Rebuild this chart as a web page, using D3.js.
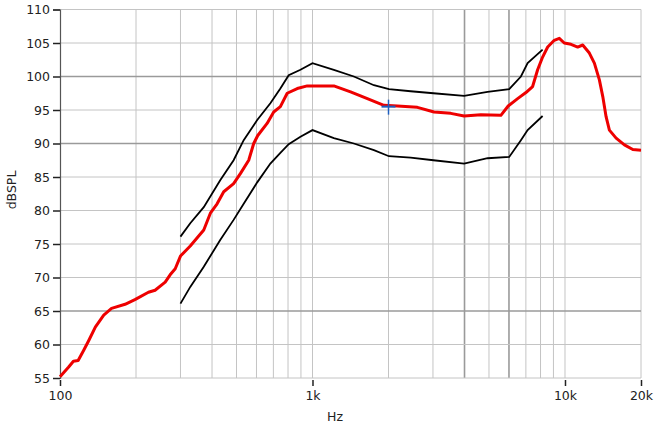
<!DOCTYPE html>
<html>
<head>
<meta charset="utf-8">
<script src="https://cdn.jsdelivr.net/npm/d3@7"></script>
<style>
  body { margin: 0; background: #fff; }
  text { font-family: "DejaVu Sans", sans-serif; fill: #222; }
</style>
</head>
<body>
<div id="chart"></div>
<script>
// measured response (red)
var respHz = [100, 108, 113, 118, 124, 130, 138, 149, 160, 181, 198, 224, 238, 261, 273, 286, 300, 328,
    371, 394, 419, 445, 487, 518, 559, 585, 607, 661, 702, 746, 794, 870, 953, 1076, 1215, 1415, 1649,
    1918, 2168, 2603, 3029, 3528, 3985, 4642, 5572, 5957, 6493, 7003, 7443, 7792, 8154, 8539, 9069,
    9493, 9936, 10563, 11230, 11754, 12489, 13073, 13683, 14115, 14546, 14992, 15940, 17195, 18563, 20000];
var respDb = [55.2, 56.6, 57.5, 57.6, 59.1, 60.6, 62.6, 64.4, 65.4, 66.0, 66.7, 67.8, 68.1, 69.3, 70.4, 71.3, 73.2, 74.7,
    77.1, 79.6, 81.0, 82.8, 84.0, 85.5, 87.5, 90.0, 91.2, 93.0, 94.7, 95.5, 97.5, 98.2, 98.6, 98.6, 98.6, 97.7, 96.7,
    95.7, 95.6, 95.4, 94.7, 94.5, 94.1, 94.3, 94.2, 95.6, 96.7, 97.6, 98.5, 101.0, 102.9, 104.4, 105.4,
    105.7, 105.0, 104.8, 104.4, 104.7, 103.5, 102.0, 99.5, 97.0, 94.0, 92.0, 90.8, 89.8, 89.1, 89.0];

// tolerance limits (black)
var limHz = [300, 328, 371, 431, 487, 534, 604, 681, 746, 805, 896, 1000, 1215, 1458, 1751, 2008,
    2448, 3013, 3985, 4935, 6012, 6690, 7112, 8154];
var upperDb = [76.1, 78.1, 80.5, 84.5, 87.5, 90.5, 93.5, 96.0, 98.2, 100.2, 101.0, 102.0, 101.0, 100.0, 98.7, 98.1,
    97.8, 97.5, 97.1, 97.7, 98.1, 100.0, 102.0, 104.0];
var lowerDb = [66.1, 68.6, 71.6, 75.6, 78.6, 81.0, 84.2, 87.0, 88.6, 89.9, 91.0, 92.0, 90.8, 90.0, 89.0, 88.1,
    87.9, 87.5, 87.0, 87.8, 88.0, 90.5, 92.0, 94.1];

var cursor = { hz: 2000, db: 95.5 };

var gridHz = [200, 300, 400, 500, 600, 700, 800, 900, 1000, 2000, 3000, 4000, 5000, 6000, 7000, 8000, 9000, 10000, 20000];
var darkGridHz = [4000, 6000];
var tickHz = [100, 1000, 10000, 20000];
var tickHzLabels = ["100", "1k", "10k", "20k"];
var dbTicks = d3.range(55, 111, 5);
var darkGridDb = [100, 90, 65];

var width = 654, height = 424,
    margin = { top: 9.5, right: 13, bottom: 46, left: 60 };

var x = d3.scaleLog().domain([100, 20000]).range([margin.left, width - margin.right]),
    y = d3.scaleLinear().domain([55, 110]).range([height - margin.bottom, margin.top]);

var svg = d3.select("#chart")
    .append("svg")
        .attr("width", width)
        .attr("height", height);

// grid
svg.append("g").selectAll("line")
    .data(gridHz)
  .enter().append("line")
    .attr("x1", d => x(d)).attr("x2", d => x(d))
    .attr("y1", y(110)).attr("y2", y(55))
    .attr("stroke", d => darkGridHz.includes(d) ? "#9a9a9a" : "#c4c4c4")
    .attr("stroke-width", d => darkGridHz.includes(d) ? 1.6 : 1);

svg.append("g").selectAll("line")
    .data(dbTicks)
  .enter().append("line")
    .attr("x1", x(100)).attr("x2", x(20000))
    .attr("y1", d => y(d)).attr("y2", d => y(d))
    .attr("stroke", d => darkGridDb.includes(d) ? "#9a9a9a" : "#c4c4c4")
    .attr("stroke-width", d => darkGridDb.includes(d) ? 1.6 : 1);

// axes
var yAxis = svg.append("g")
    .attr("transform", `translate(${margin.left},0)`)
    .call(d3.axisLeft(y).tickValues(dbTicks).tickSize(7).tickPadding(3));
yAxis.select(".domain").attr("stroke", "#555").attr("stroke-width", 1.2);
yAxis.selectAll(".tick line").attr("stroke", "#222").attr("stroke-width", 1.5);
yAxis.selectAll("text").style("font-size", "12.5px").attr("fill", "#222");

var xAxis = svg.append("g")
    .attr("transform", `translate(0,${y(55) + 2})`)
    .call(d3.axisBottom(x).tickValues(tickHz).tickFormat((d, i) => tickHzLabels[i]).tickSize(6).tickPadding(5));
xAxis.select(".domain").remove();
xAxis.selectAll(".tick line").attr("stroke", "#222").attr("stroke-width", 1.5);
xAxis.selectAll("text").style("font-size", "12.5px").attr("fill", "#222");

svg.append("text")
    .attr("x", 335).attr("y", 421)
    .attr("text-anchor", "middle")
    .style("font-size", "12.5px")
    .text("Hz");

svg.append("text")
    .attr("transform", "translate(16,190) rotate(-90)")
    .attr("text-anchor", "middle")
    .style("font-size", "12.5px")
    .text("dBSPL");

// curves
var line = d3.line()
    .x(d => x(d[0]))
    .y(d => y(d[1]));

svg.append("path")
    .datum(d3.zip(limHz, upperDb))
    .attr("d", line)
    .attr("fill", "none").attr("stroke", "#000").attr("stroke-width", 1.8);

svg.append("path")
    .datum(d3.zip(limHz, lowerDb))
    .attr("d", line)
    .attr("fill", "none").attr("stroke", "#000").attr("stroke-width", 1.8);

svg.append("path")
    .datum(d3.zip(respHz, respDb))
    .attr("d", line)
    .attr("fill", "none").attr("stroke", "#ee0000").attr("stroke-width", 3)
    .attr("stroke-linejoin", "round");

// cursor marker
var cx = x(cursor.hz), cy = y(cursor.db);
svg.append("line")
    .attr("x1", cx).attr("x2", cx).attr("y1", cy - 7).attr("y2", cy + 8)
    .attr("stroke", "#1f5fc0").attr("stroke-width", 1.5);
svg.append("line")
    .attr("x1", cx - 7).attr("x2", cx + 7).attr("y1", cy).attr("y2", cy)
    .attr("stroke", "#1f5fc0").attr("stroke-width", 2);
</script>
</body>
</html>
